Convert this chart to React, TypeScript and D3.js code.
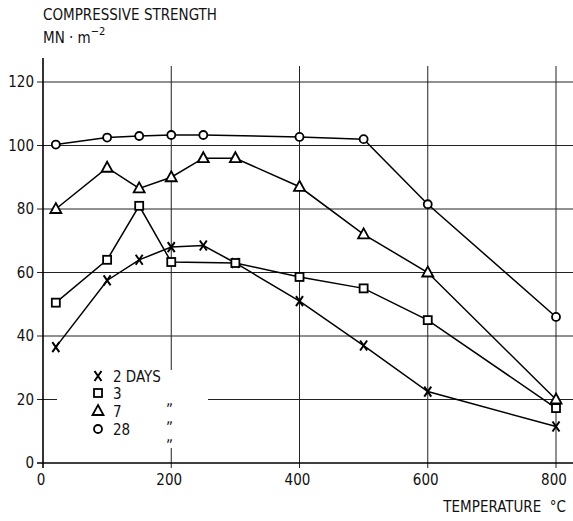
import { useEffect, useRef } from 'react';
import * as d3 from 'd3';

// temperatures (deg C) and compressive strength (MN/m2) per curing age
const temps2 = [20, 100, 150, 200, 250, 300, 400, 500, 600, 800];
const days2 = [36.5, 57.5, 64, 68, 68.5, 63, 51, 37, 22.5, 11.5];

const temps3 = [20, 100, 150, 200, 300, 400, 500, 600, 800];
const days3 = [50.5, 64, 81, 63.3, 63, 58.6, 55, 45, 17.3];

const temps7 = [20, 100, 150, 200, 250, 300, 400, 500, 600, 800];
const days7 = [80, 93, 86.5, 90, 96, 96, 87, 72, 60, 20];

const temps28 = [20, 100, 150, 200, 250, 400, 500, 600, 800];
const days28 = [100.3, 102.5, 103, 103.3, 103.3, 102.7, 102, 81.5, 46];

const xTicks = [0, 200, 400, 600, 800];
const yTicks = [0, 20, 40, 60, 80, 100, 120];

const legendLabels = ['2', '3', '7', '28'];

const FONT = "'DejaVu Sans Condensed', 'DejaVu Sans', sans-serif";

function App() {
    const chartRef = useRef(null);

    useEffect(() => {
        drawChart();
    }, []);

    function drawChart() {
        const svg = d3.select(chartRef.current);
        svg.selectAll('*').remove();

        const x = d3.scaleLinear().domain([0, 800]).range([43, 556]);
        const y = d3.scaleLinear().domain([0, 120]).range([463, 82]);

        const grid = svg.append('g').attr('stroke', '#222').attr('stroke-width', 1);

        // horizontal grid lines (the 20 line is broken by the legend)
        yTicks.filter((t) => t > 0).forEach((t) => {
            if (t === 20) {
                grid.append('line').attr('x1', x(0) - 6).attr('x2', 57).attr('y1', y(t)).attr('y2', y(t));
                grid.append('line').attr('x1', 208).attr('x2', 573).attr('y1', y(t)).attr('y2', y(t));
            } else {
                grid.append('line').attr('x1', x(0) - 6).attr('x2', 573).attr('y1', y(t)).attr('y2', y(t));
            }
        });

        // vertical grid lines
        xTicks.filter((t) => t > 0).forEach((t) => {
            if (t === 200) {
                grid.append('line').attr('x1', x(t)).attr('x2', x(t)).attr('y1', 66).attr('y2', 370);
                grid.append('line').attr('x1', x(t)).attr('x2', x(t)).attr('y1', 448).attr('y2', y(0) + 5);
            } else {
                grid.append('line').attr('x1', x(t)).attr('x2', x(t)).attr('y1', 66).attr('y2', y(0) + 5);
            }
        });

        // axes
        svg.append('line').attr('x1', x(0)).attr('x2', x(0)).attr('y1', 58).attr('y2', y(0) + 5)
            .attr('stroke', '#000').attr('stroke-width', 1.6);
        svg.append('line').attr('x1', x(0) - 6).attr('x2', 573).attr('y1', y(0)).attr('y2', y(0))
            .attr('stroke', '#000').attr('stroke-width', 1.6);

        const labels = svg.append('g').attr('font-family', FONT).attr('font-size', 15).attr('fill', '#111');

        yTicks.forEach((t) => {
            labels.append('text').attr('x', 34).attr('y', y(t) + 5).attr('text-anchor', 'end').text(t);
        });
        xTicks.forEach((t) => {
            labels.append('text').attr('x', x(t) - 2).attr('y', 485).attr('text-anchor', 'middle').text(t);
        });

        labels.append('text').attr('x', 43).attr('y', 20).text('COMPRESSIVE  STRENGTH');
        const unit = labels.append('text').attr('x', 43).attr('y', 43);
        unit.append('tspan').text('MN · m');
        unit.append('tspan').attr('dy', -8).attr('font-size', 11).text('−2');

        labels.append('text').attr('x', 566).attr('y', 512).attr('text-anchor', 'end')
            .attr('xml:space', 'preserve').text('TEMPERATURE  °C');

        // data lines
        const line = d3.line<[number, number]>().x((d) => x(d[0])).y((d) => y(d[1]));
        const series = [
            { t: temps2, v: days2, mark: 'x' },
            { t: temps3, v: days3, mark: 'square' },
            { t: temps7, v: days7, mark: 'triangle' },
            { t: temps28, v: days28, mark: 'circle' },
        ];

        series.forEach((s) => {
            const pts = s.t.map((t, i) => [t, s.v[i]] as [number, number]);
            svg.append('path').attr('d', line(pts)).attr('fill', 'none')
                .attr('stroke', '#000').attr('stroke-width', 1.5);
        });

        function drawMarker(g: any, mark: string, cx: number, cy: number) {
            if (mark === 'circle') {
                g.append('circle').attr('cx', cx).attr('cy', cy).attr('r', 4)
                    .attr('fill', '#fff').attr('stroke', '#000').attr('stroke-width', 1.8);
            } else if (mark === 'square') {
                g.append('rect').attr('x', cx - 4).attr('y', cy - 4).attr('width', 8).attr('height', 8)
                    .attr('fill', '#fff').attr('stroke', '#000').attr('stroke-width', 1.8);
            } else if (mark === 'triangle') {
                g.append('path').attr('d', `M${cx},${cy - 6}L${cx + 5.5},${cy + 4}L${cx - 5.5},${cy + 4}Z`)
                    .attr('fill', '#fff').attr('stroke', '#000').attr('stroke-width', 1.8);
            } else {
                g.append('path').attr('d', `M${cx - 3.5},${cy - 5}L${cx + 3.5},${cy + 5}M${cx + 3.5},${cy - 5}L${cx - 3.5},${cy + 5}`)
                    .attr('fill', 'none').attr('stroke', '#000').attr('stroke-width', 2);
            }
        }

        const marks = svg.append('g');
        series.forEach((s) => {
            s.t.forEach((t, i) => drawMarker(marks, s.mark, x(t), y(s.v[i])));
        });

        // legend
        const rowsY = [376, 393, 411, 429];
        series.forEach((s, i) => {
            drawMarker(marks, s.mark, 98, rowsY[i]);
            labels.append('text').attr('x', 113).attr('y', rowsY[i] + 6)
                .text(i === 0 ? `${legendLabels[i]} DAYS` : legendLabels[i]);
            if (i > 0) {
                labels.append('text').attr('x', 166).attr('y', rowsY[i] + 12).text('„');
            }
        });
    }

    return (
        <div style={{ position: 'absolute', left: 0, top: 0 }}>
            <svg ref={chartRef} width="573" height="521" style={{ background: '#fff', display: 'block' }}></svg>
        </div>
    );
}

export default App;
